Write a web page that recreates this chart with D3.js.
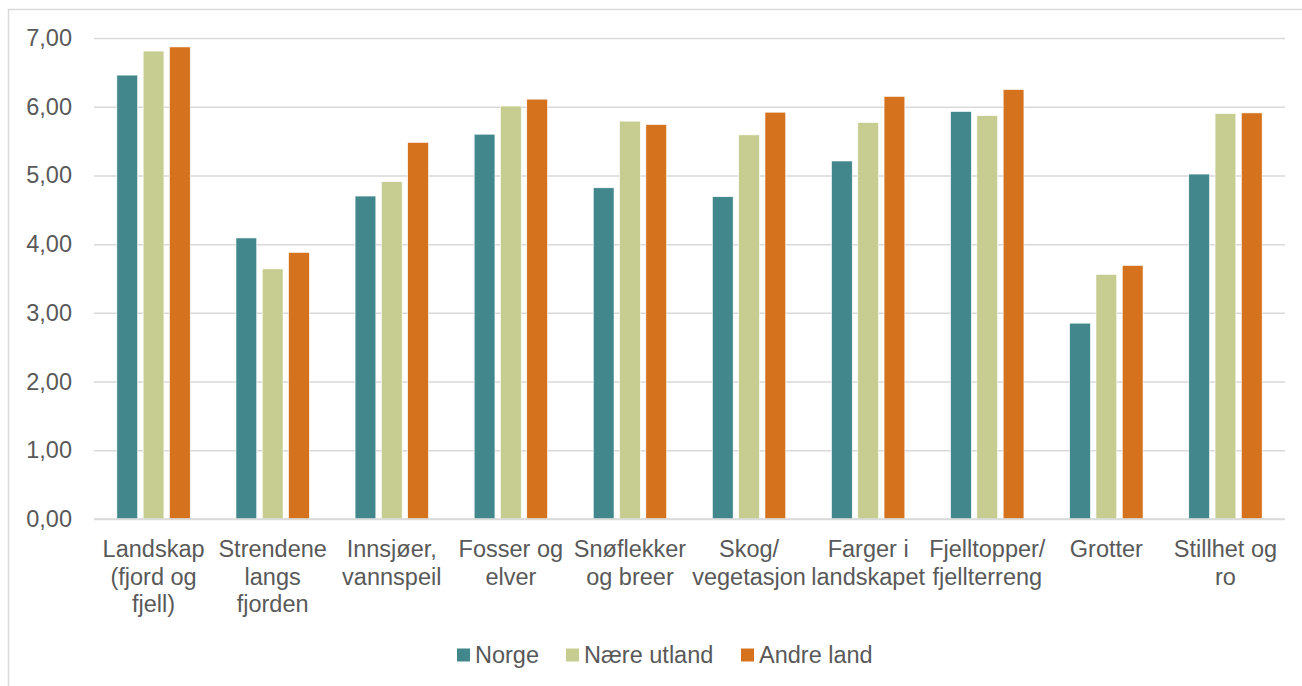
<!DOCTYPE html>
<html>
<head>
<meta charset="utf-8">
<script src="https://cdn.jsdelivr.net/npm/d3@7"></script>
<style>
  body { margin: 0; background: #fff; }
  text { font-family: "Liberation Sans", Arial, sans-serif; fill: #595959; }
</style>
</head>
<body>
<div id="canvas"></div>
<script>
// ---- DATA ----
var categories = [
  ['Landskap', '(fjord og', 'fjell)'],
  ['Strendene', 'langs', 'fjorden'],
  ['Innsjøer,', 'vannspeil'],
  ['Fosser og', 'elver'],
  ['Snøflekker', 'og breer'],
  ['Skog/', 'vegetasjon'],
  ['Farger i', 'landskapet'],
  ['Fjelltopper/', 'fjellterreng'],
  ['Grotter'],
  ['Stillhet og', 'ro']
];
var seriesNames = ['Norge', 'Nære utland', 'Andre land'];
var norge      = [6.46, 4.09, 4.70, 5.60, 4.82, 4.69, 5.21, 5.93, 2.85, 5.02];
var naereUtland = [6.81, 3.64, 4.91, 6.01, 5.79, 5.59, 5.77, 5.87, 3.56, 5.90];
var andreLand  = [6.87, 3.88, 5.48, 6.11, 5.74, 5.92, 6.15, 6.25, 3.69, 5.91];
var yTicks = [0, 1, 2, 3, 4, 5, 6, 7];
var colors = ['#42878B', '#C7CD90', '#D4721D'];

var values = [norge, naereUtland, andreLand];
var fontSize = '23.5px';

// ---- CONVENTIONS ----
var outerWidth = 1302, outerHeight = 686;
var margin = {top: 38, right: 17, bottom: 167, left: 94};
var width = outerWidth - margin.left - margin.right,
    height = outerHeight - margin.top - margin.bottom;

var svg = d3.select('#canvas')
    .append('svg')
    .attr('width', outerWidth)
    .attr('height', outerHeight);

// chart frame
svg.append('rect')
    .attr('x', 8.5).attr('y', 9.5)
    .attr('width', 1400).attr('height', 900)
    .style('fill', 'none')
    .style('stroke', '#d9d9d9')
    .style('stroke-width', 1.5);

var plot = svg.append('g')
    .attr('transform', 'translate(' + margin.left + ',' + margin.top + ')');

// ---- SCALES ----
var scaleX = d3.scaleBand()
    .domain(d3.range(categories.length))
    .range([0, width])
    .padding(0);

var groupPad = scaleX.step() * 0.192;
var scaleSeries = d3.scaleBand()
    .domain(d3.range(seriesNames.length))
    .range([groupPad, scaleX.step() - groupPad])
    .paddingInner(0.21);

var scaleY = d3.scaleLinear()
    .domain([0, 7])
    .range([height, 0]);

// ---- AXES ----
var axisY = d3.axisLeft(scaleY)
    .tickValues(yTicks)
    .tickSize(-width)
    .tickPadding(22)
    .tickFormat(function(d){ return d3.format('.2f')(d).replace('.', ','); });

var gy = plot.append('g').attr('class', 'axis axis-y').call(axisY);
gy.select('.domain').remove();
gy.selectAll('line').style('stroke', '#d9d9d9').style('stroke-width', 1.5);
gy.selectAll('text').style('font-size', fontSize).style('fill', '#595959')
    .style('font-family', '"Liberation Sans", Arial, sans-serif');

// ---- BARS ----
var groups = plot.selectAll('.group')
    .data(categories)
    .enter().append('g')
    .attr('class', 'group')
    .attr('transform', function(d, i){ return 'translate(' + scaleX(i) + ',0)'; });

groups.selectAll('rect')
    .data(function(d, i){ return values.map(function(s, j){ return {s: j, v: s[i]}; }); })
    .enter().append('rect')
    .attr('x', function(d){ return scaleSeries(d.s); })
    .attr('width', scaleSeries.bandwidth())
    .attr('y', function(d){ return scaleY(d.v); })
    .attr('height', function(d){ return height - scaleY(d.v); })
    .style('fill', function(d){ return colors[d.s]; })
    .style('stroke', '#fff')
    .style('stroke-width', 0.6);

// baseline over bars
plot.append('line')
    .attr('x1', 0).attr('x2', width)
    .attr('y1', scaleY(0)).attr('y2', scaleY(0))
    .style('stroke', '#d9d9d9').style('stroke-width', 1.5);

// ---- CATEGORY LABELS ----
groups.append('text')
    .attr('text-anchor', 'middle')
    .style('font-size', fontSize)
    .attr('transform', 'translate(' + scaleX.step() / 2 + ',' + (height + 38) + ')')
    .selectAll('tspan')
    .data(function(d){ return d; })
    .enter().append('tspan')
    .attr('x', 0)
    .attr('dy', function(d, i){ return i === 0 ? 0 : 27.5; })
    .text(function(d){ return d; });

// ---- LEGEND ----
var legendX = [457, 566, 741];
var legend = svg.append('g').attr('class', 'legend');
var items = legend.selectAll('g')
    .data(seriesNames)
    .enter().append('g')
    .attr('transform', function(d, i){ return 'translate(' + legendX[i] + ',655)'; });
items.append('rect')
    .attr('x', 0).attr('y', -6.5)
    .attr('width', 13).attr('height', 13)
    .style('fill', function(d, i){ return colors[i]; });
items.append('text')
    .attr('x', 18).attr('y', 8)
    .style('font-size', fontSize)
    .text(function(d){ return d; });
</script>
</body>
</html>
